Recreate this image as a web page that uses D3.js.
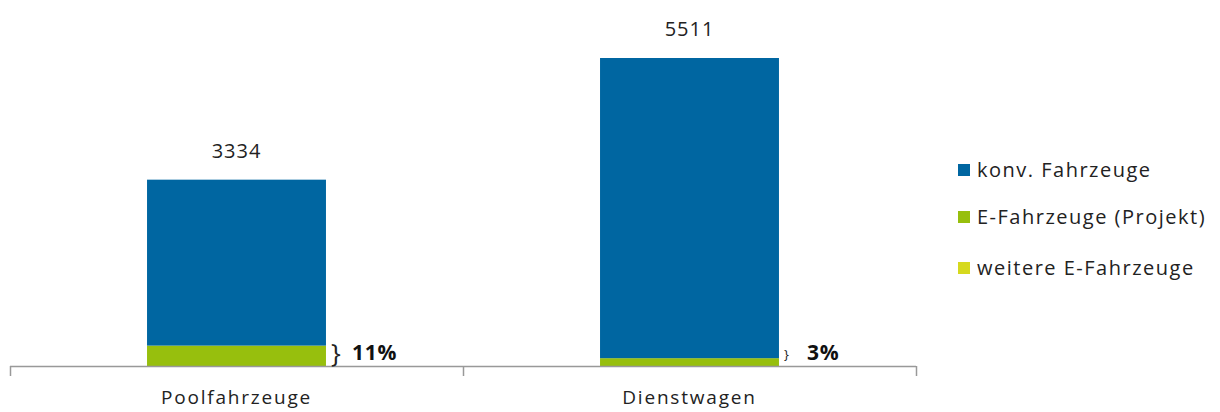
<!DOCTYPE html>
<html><head><meta charset="utf-8">
<script src="https://cdn.jsdelivr.net/npm/d3@7"></script>
<style>body{margin:0;background:#fff}svg{display:block}text{font-family:"Open Sans","DejaVu Sans",sans-serif}</style>
</head><body><svg id="c" width="1220" height="412"></svg>
<script>
const categories = ["Poolfahrzeuge", "Dienstwagen"];
const konv = [2969, 5371];
const eProjekt = [365, 140];
const weitere = [0, 0];
const totals = [3334, 5511];
const shares = ["11%", "3%"];
const seriesNames = ["konv. Fahrzeuge", "E-Fahrzeuge (Projekt)", "weitere E-Fahrzeuge"];
const colors = ["#0066A1", "#97BF0D", "#D6D91E"];

const svg = d3.select("#c");
const x = d3.scaleBand().domain(categories).range([10, 916]).paddingInner(0).paddingOuter(0);
const y = d3.scaleLinear().domain([0, 6000]).range([366, 366 - 6000 * 308 / 5511]);

const rows = categories.map((c, i) => ({cat: c, s0: eProjekt[i], s1: weitere[i], s2: konv[i]}));
const stack = d3.stack().keys(["s0", "s1", "s2"])(rows);
const colMap = {s0: colors[1], s1: colors[2], s2: colors[0]};
const bw = x.bandwidth() * 0.395;

stack.forEach(layer => {
  svg.append("g").selectAll("rect").data(layer).enter().append("rect")
    .attr("x", d => x(d.data.cat) + x.bandwidth() / 2 - bw / 2)
    .attr("width", bw)
    .attr("y", d => y(d[1]))
    .attr("height", d => y(d[0]) - y(d[1]))
    .attr("fill", colMap[layer.key]);
});

// axis
const axis = svg.append("g");
axis.append("line").attr("x1", 10).attr("x2", 916).attr("y1", 366.5).attr("y2", 366.5).attr("stroke", "#999").attr("stroke-width", 1.5);
[0, 1, 2].forEach(k => {
  const tx = k < 2 ? x(categories[k]) : x(categories[1]) + x.bandwidth();
  axis.append("line").attr("x1", tx + 0.5).attr("x2", tx + 0.5).attr("y1", 366).attr("y2", 376).attr("stroke", "#999").attr("stroke-width", 1.5);
});
categories.forEach(c => {
  svg.append("text").attr("x", x(c) + x.bandwidth() / 2).attr("y", 404).attr("text-anchor", "middle")
    .attr("font-size", 19).attr("letter-spacing", 1.8).attr("fill", "#222").text(c);
});

// totals
totals.forEach((t, i) => {
  svg.append("text").attr("x", x(categories[i]) + x.bandwidth() / 2).attr("y", y(t) - 22).attr("text-anchor", "middle")
    .attr("font-size", 20).attr("letter-spacing", 1).attr("fill", "#222").text(t);
});

// braces and shares
const braceSizes = [26, 13];
const braceY = [353, 354];
const shareOffsets = [26, 28];
categories.forEach((c, i) => {
  const right = x(c) + x.bandwidth() / 2 + bw / 2;
  svg.append("text").attr("x", right + 5).attr("y", braceY[i]).attr("dy", "0.35em").attr("font-size", braceSizes[i])
    .attr("fill", "#222").text("}");
  svg.append("text").attr("x", right + shareOffsets[i]).attr("y", 353).attr("dy", "0.35em").attr("font-size", 21)
    .attr("font-weight", "bold").attr("letter-spacing", 0.8).attr("fill", "#111").text(shares[i]);
});

// legend
const legY = [170, 217, 268];
seriesNames.forEach((n, i) => {
  svg.append("rect").attr("x", 958).attr("y", legY[i] - 6).attr("width", 12).attr("height", 12).attr("fill", colors[i]);
  svg.append("text").attr("x", 977).attr("y", legY[i]).attr("dy", "0.35em").attr("font-size", 20)
    .attr("letter-spacing", 1.5).attr("fill", "#222").text(n);
});
</script></body></html>
